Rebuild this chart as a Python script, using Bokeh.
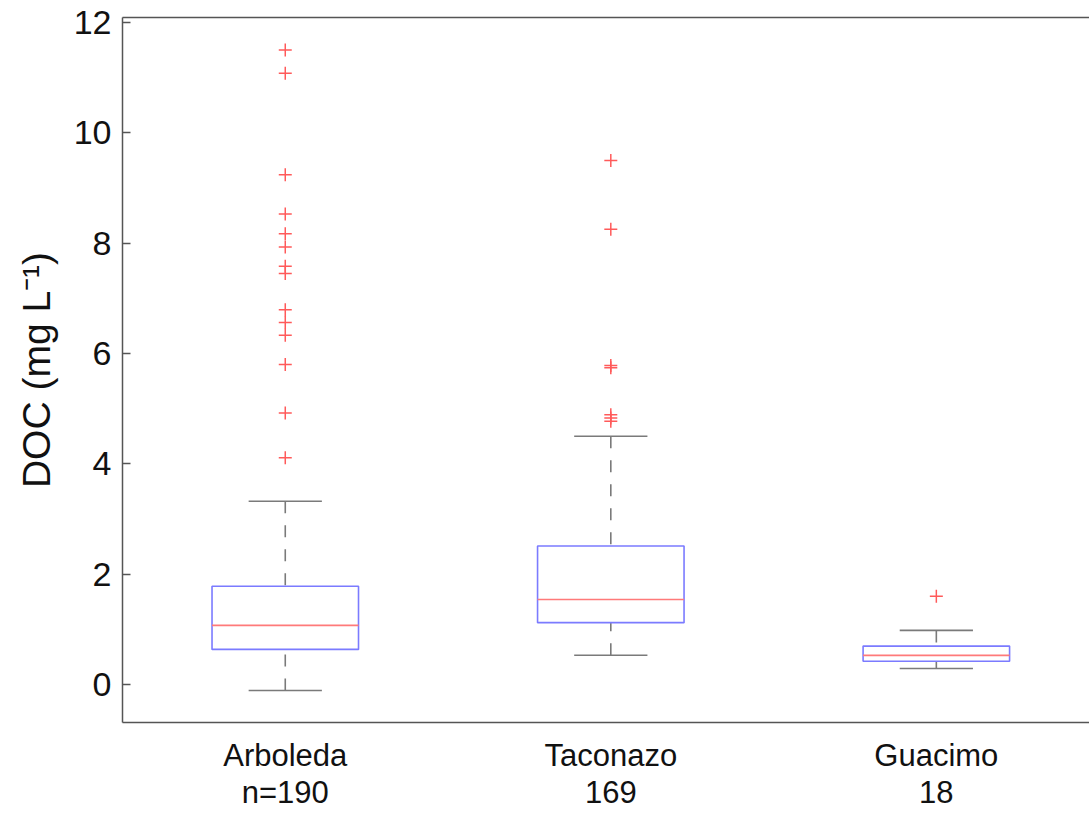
from bokeh.plotting import figure
from bokeh.models import Range1d, FixedTicker, LinearAxis, ColumnDataSource
from bokeh.embed import file_html
from bokeh.resources import INLINE

# ---- data ----
sites = ["Arboleda", "Taconazo", "Guacimo"]
counts = ["n=190", "169", "18"]
positions = [1, 2, 3]
lower_whisker = [-0.11, 0.53, 0.29]
q1 = [0.635, 1.12, 0.42]
median = [1.07, 1.54, 0.526]
q3 = [1.78, 2.51, 0.695]
upper_whisker = [3.32, 4.50, 0.98]
outliers_arboleda = [11.50, 11.08, 9.24, 8.53, 8.17, 7.93, 7.58, 7.45,
                     6.79, 6.56, 6.33, 5.80, 4.92, 4.11]
outliers_taconazo = [9.50, 8.25, 5.78, 5.74, 4.89, 4.83, 4.77]
outliers_guacimo = [1.60]
y_ticks = [0, 2, 4, 6, 8, 10, 12]

BOX_W = 0.45
CAP_W = 0.225
AXIS_COLOR = "#555555"
FONT = "Liberation Sans"

p = figure(width=1089, height=814, output_backend="svg", toolbar_location=None,
           x_range=Range1d(0.5, 3.4705), y_range=Range1d(-0.69, 12.09),
           x_axis_location=None, y_axis_location=None,
           min_border_left=122, min_border_right=0, min_border_top=17,
           min_border_bottom=92)
p.outline_line_color = None
p.grid.visible = False
p.background_fill_color = "white"
p.border_fill_color = "white"

# left axis
ya = LinearAxis(ticker=FixedTicker(ticks=y_ticks))
ya.axis_line_color = AXIS_COLOR
ya.axis_line_width = 1.5
ya.major_tick_in = 8
ya.major_tick_out = 0
ya.major_tick_line_color = AXIS_COLOR
ya.major_tick_line_width = 1.5
ya.minor_tick_line_color = None
ya.major_label_text_font = FONT
ya.major_label_text_font_size = "34px"
ya.major_label_text_color = "#111111"
ya.major_label_standoff = 11
ya.axis_label = "DOC (mg L\u207b\u00b9)"
ya.axis_label_text_font = FONT
ya.axis_label_text_font_size = "39px"
ya.axis_label_text_font_style = "normal"
ya.axis_label_text_color = "#111111"
ya.axis_label_standoff = 13
p.add_layout(ya, "left")

# bottom axis with site labels
xa = LinearAxis(ticker=FixedTicker(ticks=positions))
xa.major_label_overrides = {pos: f"{s}\n{c}" for pos, s, c in zip(positions, sites, counts)}
xa.axis_line_color = AXIS_COLOR
xa.axis_line_width = 1.5
xa.major_tick_line_color = None
xa.minor_tick_line_color = None
xa.major_label_text_font = FONT
xa.major_label_text_font_size = "31px"
xa.major_label_text_color = "#111111"
xa.major_label_standoff = 9
xa.major_label_text_line_height = 1.08
p.add_layout(xa, "below")

# top frame line
ta = LinearAxis(ticker=FixedTicker(ticks=[]))
ta.axis_line_color = AXIS_COLOR
ta.axis_line_width = 1.5
ta.major_tick_line_color = None
ta.minor_tick_line_color = None
ta.major_label_text_font_size = "0px"
p.add_layout(ta, "above")

src = ColumnDataSource(dict(
    x=positions, lw=lower_whisker, q1=q1, med=median, q3=q3, uw=upper_whisker,
    xl=[x - BOX_W / 2 for x in positions], xr=[x + BOX_W / 2 for x in positions],
    cl=[x - CAP_W / 2 for x in positions], cr=[x + CAP_W / 2 for x in positions],
))

WHISK = "#7a7a7a"
# whiskers (dashed)
p.segment(x0="x", y0="uw", x1="x", y1="q3", source=src, line_color=WHISK,
          line_width=1.6, line_dash="12 12")
p.segment(x0="x", y0="lw", x1="x", y1="q1", source=src, line_color=WHISK,
          line_width=1.6, line_dash="12 12")
# caps
p.segment(x0="cl", y0="uw", x1="cr", y1="uw", source=src, line_color=WHISK, line_width=1.6)
p.segment(x0="cl", y0="lw", x1="cr", y1="lw", source=src, line_color=WHISK, line_width=1.6)
# boxes
p.quad(left="xl", right="xr", bottom="q1", top="q3", source=src,
       fill_color=None, line_color="#7b7bff", line_width=1.6)
# medians
p.segment(x0="xl", y0="med", x1="xr", y1="med", source=src,
          line_color="#ff7a7a", line_width=1.6)

# outliers
ox, oy = [], []
for pos, vals in zip(positions, [outliers_arboleda, outliers_taconazo, outliers_guacimo]):
    ox += [pos] * len(vals)
    oy += vals
p.scatter(ox, oy, marker="cross", size=13, line_color="#ff5a5a", line_width=1.5)

open("out.html", "w").write(file_html(p, INLINE))
